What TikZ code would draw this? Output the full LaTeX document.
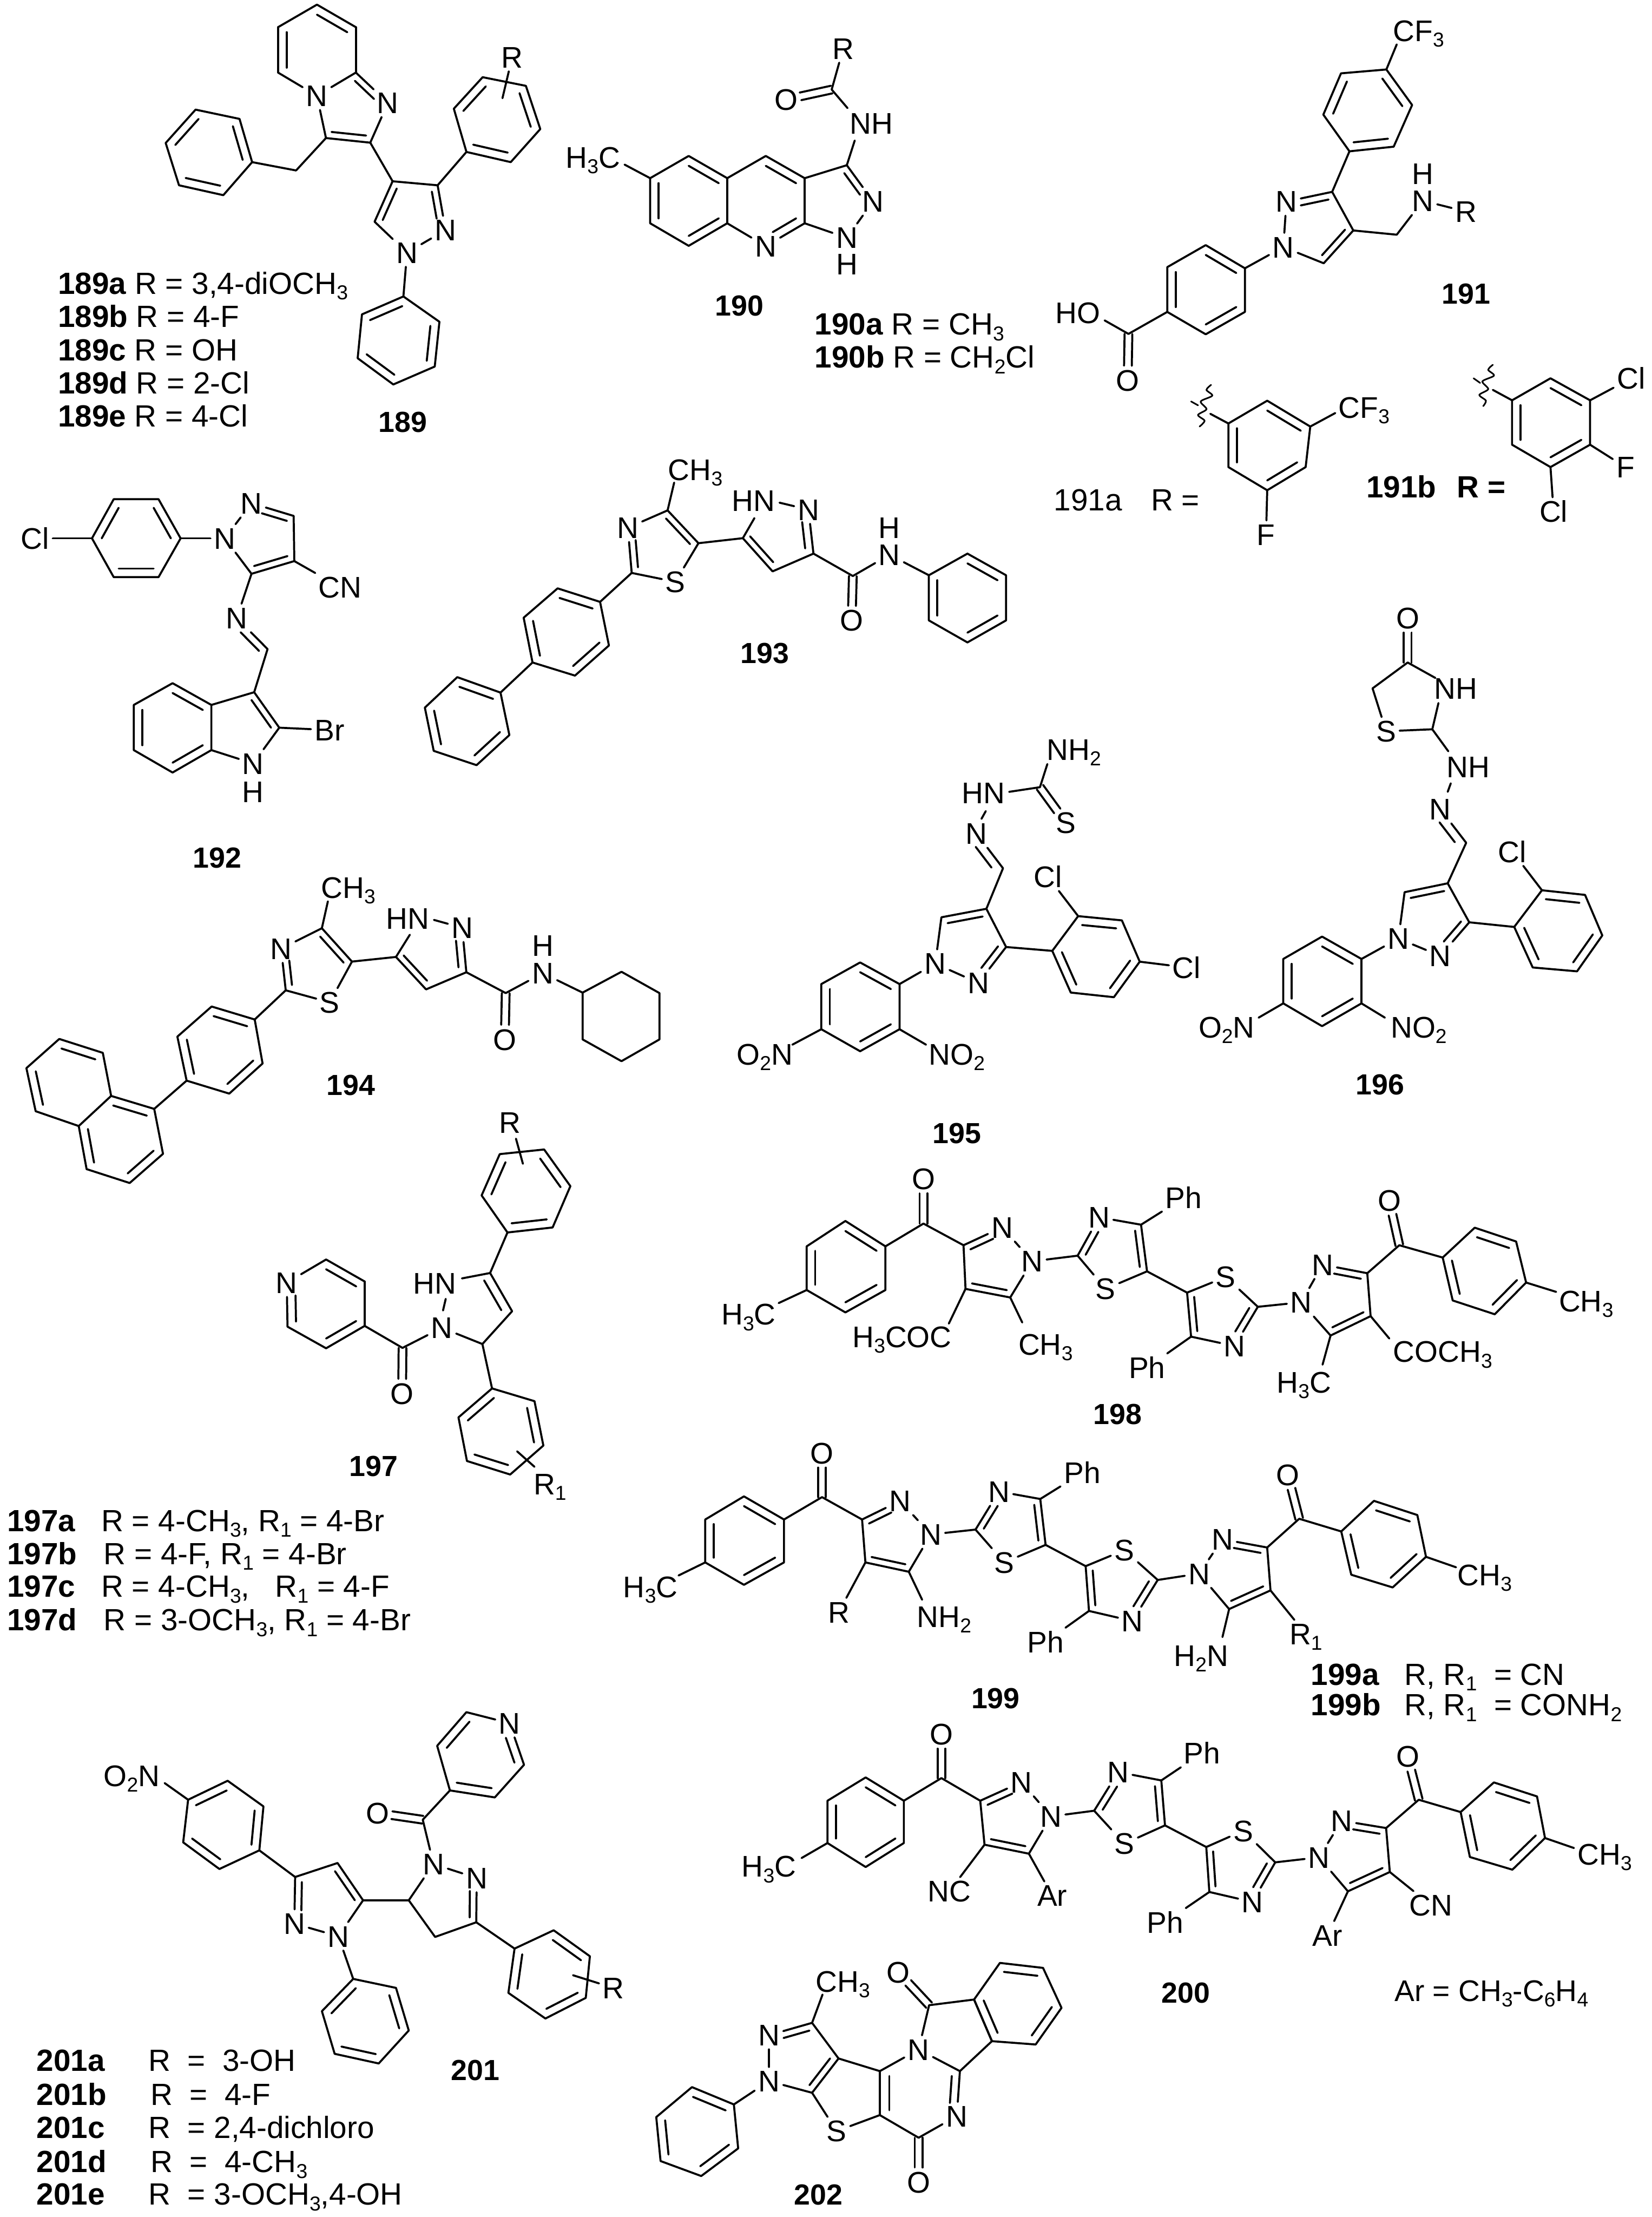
\documentclass[tikz,border=0pt]{standalone}
\usepackage{fontspec}
\setmainfont{Liberation Sans}
\usepackage{tkz-euclide}
\usetikzlibrary{calc}

\newcommand{\lo}[1]{\raisebox{-.35ex}{\fontsize{12.5}{13}\selectfont #1}}
\tikzset{
  crop/.style n args={4}{shift={(#1*0.25pt,-#2*0.25pt)},x={(#3/1568*0.25pt,0pt)},y={(0pt,-#4/1568*0.25pt)}},
  bond/.style={line width=1.25pt,line cap=round},
  tolab/.style={shorten >=5pt},
  atom/.style={inner sep=2pt,text height=13.2pt,text depth=0pt,font=\fontsize{18.5}{20}\selectfont},
  lab/.style={atom,inner sep=0pt,anchor=west,font=\fontsize{19}{20}\selectfont},
  num/.style={atom,font=\fontsize{18}{20}\selectfont\bfseries},
}
\newcommand{\atoms}[1]{\foreach \n/\x/\y/\txt in {#1}{\node[atom] (\n) at (\x,\y) {\txt};}}
\newcommand{\bonds}[1]{\foreach \p/\q in {#1}{\draw[bond] (\p) -- (\q);}}
\newcommand{\innerbonds}[4][]{\coordinate (ctr) at ($(#2)!.5!(#3)$);
  \foreach \p/\q in {#4}{\draw[bond,#1] ($(ctr)!.78!(\p)$) -- ($(ctr)!.78!(\q)$);}}
\newcommand{\ctrfive}[5]{\coordinate (q) at (barycentric cs:#1=1,#2=1,#3=1,#4=1,#5=1);}
\newcommand{\hexring}[2]{\foreach \x/\y [count=\i] in {#2}{\tkzDefPoint(\x,\y){#1\i}}
  \tkzDrawPolygon[bond](#11,#12,#13,#14,#15,#16)
  \innerbonds{#11}{#14}{#11/#12,#13/#14,#15/#16}}
\newcommand{\carbonyl}[2]{\draw[bond,shorten >=9pt] ($(#1)!2.4pt!90:(#2)$) -- ($(#2)!2.4pt!-90:(#1)$);
  \draw[bond,shorten >=9pt] ($(#1)!2.4pt!-90:(#2)$) -- ($(#2)!2.4pt!90:(#1)$);}
\newcommand{\biscore}{
  \bonds{r2/c1,c1/c2,c2/n1,n1/n2,n2/c3,c3/c4,c4/c2,n2/c5,c5/n3,n3/c6,c6/c7,c7/su1,su1/c5,c7/c8,c8/su2,su2/c9,c9/n4,n4/c10,c10/c8,c9/n5,n5/n6,n6/c11,c11/c12,c12/c13,c13/n5,c11/c14,c14/s6,c6/ph1,c10/ph2}
  \carbonyl{c1}{o1}
  \carbonyl{c14}{o2}
  \ctrfive{c2}{n1}{n2}{c3}{c4}
  \innerbonds[tolab]{q}{q}{c2/n1}
  \innerbonds{q}{q}{c4/c3}
  \ctrfive{c5}{n3}{c6}{c7}{su1}
  \innerbonds[tolab]{q}{q}{c5/n3}
  \innerbonds{q}{q}{c6/c7}
  \ctrfive{c8}{su2}{c9}{n4}{c10}
  \innerbonds[tolab]{q}{q}{c9/n4}
  \innerbonds{q}{q}{c8/c10}
  \ctrfive{n5}{n6}{c11}{c12}{c13}
  \innerbonds[tolab]{q}{q}{c11/n6}
  \innerbonds{q}{q}{c12/c13}
}

\begin{document}
\begin{tikzpicture}
  \path[use as bounding box] (0pt,0pt) rectangle (4094*0.25pt,-5494*0.25pt);

  % 189
  \begin{scope}[crop={0}{0}{1400}{1200}]
    \atoms{n1/880/310/N,n2/1077/333/N,n3/1237/745/N,n4/1130/818/N,lr/1422/185/R}
    \tkzDefPoints{880/15/a,988/88/b,988/235/c,772/235/d,772/88/e,1028/462/f,905/447/g,822/552/h,1090/587/i,1215/600/j,1040/718/k,1395/318/w}
    \hexring{s}{665/385,700/525,620/632,497/600,460/463,543/355}
    \hexring{t}{1260/352,1340/250,1460/278,1500/418,1418/525,1295/492}
    \hexring{u}{1120/960,1005/1018,993/1160,1092/1245,1207/1187,1220/1042}
    \bonds{e/a,a/b,b/c,c/n1,n1/d,d/e,c/n2,n2/f,f/g,g/n1,g/h,h/s2,f/i,i/j,j/n3,n3/n4,n4/k,k/i,j/t6,n4/u1,lr/w}
    \innerbonds{a}{n1}{a/b,d/e}
    \ctrfive{n1}{c}{n2}{f}{g}
    \innerbonds[tolab]{q}{q}{c/n2}
    \innerbonds{q}{q}{f/g}
    \ctrfive{i}{j}{n3}{n4}{k}
    \innerbonds[tolab]{q}{q}{j/n3}
    \innerbonds{q}{q}{i/k}
    \node[lab] (l1) at (160,918) {\textbf{189a} R = 3,4-diOCH\lo{3}};
    \node[lab] (l2) at (160,1025) {\textbf{189b} R = 4-F};
    \node[lab] (l3) at (160,1133) {\textbf{189c} R = OH};
    \node[lab] (l4) at (160,1240) {\textbf{189d} R = 2-Cl};
    \node[lab] (l5) at (160,1347) {\textbf{189e} R = 4-Cl};
    \node[num] (l6) at (1118,1365) {189};
  \end{scope}

  % 190
  \begin{scope}[crop={1300}{0}{1400}{1200}]
    \atoms{n1/670/797/N,n2/968/652/N,n3/895/770/N,h1/895/855/H,me/190/510/H\lo{3}C,nh/963/400/NH,o1/727/322/O,lr/885/157/R}
    \tkzDefPoints{563/577/a,670/505/b,778/577/c,778/723/d,563/723/e,895/535/f,278/533/g,917/455/h,853/290/i,897/350/j}
    \hexring{r}{456/505,563/577,563/723,456/796,349/723,349/577}
    \bonds{a/b,b/c,c/d,d/n1,n1/e,e/a,c/f,f/n2,n2/n3,n3/d,g/r6,f/h,i/j,lr/i}
    \carbonyl{i}{o1}
    \innerbonds{b}{n1}{b/c}
    \innerbonds[tolab]{b}{n1}{d/n1}
    \ctrfive{c}{f}{n2}{n3}{d}
    \innerbonds[tolab]{q}{q}{f/n2}
    \node[num] (l1) at (597,988) {190};
    \node[lab] (l2) at (805,1050) {\textbf{190a} R = CH\lo{3}};
    \node[lab] (l3) at (805,1157) {\textbf{190b} R = CH\lo{2}Cl};
  \end{scope}

  % 191
  \begin{scope}[crop={2600}{0}{1494}{1500}]
    \atoms{n1/618/522/N,n2/610/640/N,n3/973/520/N,h1/973/450/H,lr/1085/548/R,cf/962/80/CF\lo{3},ho/75/810/HO,o1/205/985/O,cf2/820/1055/CF\lo{3},f1/565/1385/F,cl1/1515/980/Cl,f2/1500/1210/F,cl2/1313/1325/Cl}
    \tkzDefPoints{737/497/a,715/682/b,792/597/c,905/608/d,207/865/e,905/115/g,145/830/h,745/1070/i,420/1072/j,1155/1010/k}
    \hexring{r}{878/180,945/272,897/380,782/392,714/297,760/190}
    \hexring{s}{408/635,510/695,510/808,408/866,308/808,308/692}
    \hexring{t}{568/1038,680/1105,668/1210,568/1270,467/1210,467/1097}
    \hexring{u}{1305/980,1408/1037,1408/1152,1305/1210,1205/1152,1205/1037}
    \bonds{g/r1,r4/a,a/n1,n1/n2,n2/b,b/c,c/a,c/d,d/n3,n3/lr,n2/s2,s5/e,e/h,i/t2,t4/f1,t6/j,u2/cl1,u3/f2,u4/cl2,u6/k}
    \carbonyl{e}{o1}
    \ctrfive{a}{n1}{n2}{b}{c}
    \innerbonds[tolab]{q}{q}{a/n1}
    \innerbonds{q}{q}{c/b}
    \draw[bond,line width=1pt] plot[smooth] coordinates {(422,997) (410,1010) (425,1025) (395,1040) (410,1060) (388,1075) (405,1090) (392,1105)};
    \draw[bond,line width=1pt] plot[smooth] coordinates {(1155,945) (1143,958) (1158,973) (1128,988) (1143,1008) (1120,1023) (1137,1038) (1130,1052)};
    \tkzDefPoints{370/1040/w1,388/1050/w2,1105/980/w3,1122/992/w4}
    \draw[bond,line width=1pt] (w1) -- (w2);
    \draw[bond,line width=1pt] (w3) -- (w4);
    \node[num] (l1) at (1085,760) {191};
    \node[lab] (l2) at (12,1295) {191a\hspace{18pt}R =};
    \node[lab] (l3) at (825,1262) {\textbf{191b\hspace{13pt}R =}};
  \end{scope}

  % 192
  \begin{scope}[crop={0}{1150}{1300}{1300}]
    \atoms{cl/105/222/Cl,n1/672/222/N,n2/752/117/N,cn/1017/368/CN,n3/708/460/N,n4/757/895/N,h1/757/980/H,br/985/795/Br}
    \tkzDefPoints{878/155/a,880/290/b,752/328/c,800/553/d,760/682/e,835/788/f,632/855/g,632/720/h,683/577/v}
    \hexring{r}{275/222,340/105,474/105,540/222,474/338,340/338}
    \hexring{s}{516/655,632/720,632/855,516/922,400/855,400/720}
    \bonds{cl/r1,r4/n1,n1/n2,n2/a,a/b,b/c,c/n1,b/cn,c/n3,n3/d,d/e,e/f,f/n4,n4/g,g/h,h/e,f/br}
    \ctrfive{n1}{n2}{a}{b}{c}
    \innerbonds[tolab]{q}{q}{a/n2}
    \innerbonds{q}{q}{b/c}
    \innerbonds[tolab]{v}{v}{d/n3}
    \ctrfive{e}{f}{n4}{g}{h}
    \innerbonds{q}{q}{e/f}
    \node[num] (l1) at (650,1175) {192};
  \end{scope}

  % 193
  \begin{scope}[crop={1100}{1150}{1500}{1500}]
    \atoms{me/652/15/CH\lo{3},n1/477/165/N,su1/600/305/S,hn/803/95/HN,n2/945/118/N,o1/1057/405/O,n3/1155/235/N,h1/1155/165/H}
    \tkzDefPoints{580/120/a,660/205/b,487/282/c,775/192/d,958/232/e,852/278/f,1060/290/g,597/48/p1,805/140/p2,870/100/p3}
    \hexring{r}{295/322,405/357,428/470,340/548,230/514,207/398}
    \hexring{s}{35/552,147/592,170/702,85/780,-26/743,-49/631}
    \hexring{t}{1357/232,1457/288,1457/405,1357/462,1257/405,1257/288}
    \bonds{p1/a,a/b,b/su1,su1/c,c/n1,n1/a,c/r2,r5/s2,b/d,d/p2,p3/n2,n2/e,e/f,f/d,e/g,g/n3,n3/t6}
    \carbonyl{g}{o1}
    \ctrfive{a}{b}{su1}{c}{n1}
    \innerbonds{q}{q}{a/b}
    \innerbonds[tolab]{q}{q}{c/n1}
    \coordinate (q) at (860,170);
    \innerbonds{q}{q}{d/f}
    \innerbonds[tolab]{q}{q}{e/n2}
    \node[num] (l1) at (832,488) {193};
  \end{scope}

  % 194
  \begin{scope}[crop={0}{2050}{1800}{1800}]
    \atoms{me/752/130/CH\lo{3},n1/607/262/N,su1/712/378/S,hn/880/197/HN,n2/998/217/N,o1/1090/458/O,n3/1172/315/N,h1/1172/255/H}
    \tkzDefPoints{695/218/a,760/290/b,617/352/c,855/280/d,1007/313/e,920/350/f,1092/358/g,708/160/p1,885/232/p2,937/200/p3}
    \hexring{r}{457/387,550/415,567/510,495/575,403/547,383/452}
    \hexring{s}{240/580,333/608,352/705,280/768,187/738,170/645}
    \tkzDefPoints{222/487/u1,128/457/u2,57/520/u3,77/613/u4}
    \tkzDefPoints{1258/357/v1,1342/312/v2,1424/358/v3,1424/458/v4,1342/505/v5,1258/458/v6}
    \tkzDrawPolygon[bond](v1,v2,v3,v4,v5,v6)
    \bonds{p1/a,a/b,b/su1,su1/c,c/n1,n1/a,c/r2,r5/s2,s1/u1,u1/u2,u2/u3,u3/u4,u4/s6,b/d,d/p2,p3/n2,n2/e,e/f,f/d,e/g,g/n3,n3/v1}
    \carbonyl{g}{o1}
    \innerbonds{u2}{s6}{u1/u2,u3/u4}
    \ctrfive{a}{b}{su1}{c}{n1}
    \innerbonds{q}{q}{a/b}
    \innerbonds[tolab]{q}{q}{c/n1}
    \coordinate (q) at (930,265);
    \innerbonds{q}{q}{d/f}
    \innerbonds[tolab]{q}{q}{e/n2}
    \node[num] (l1) at (758,555) {194};
  \end{scope}

  % 195, 196
  \begin{scope}[crop={1700}{1350}{2394}{1500}]
    \atoms{nh2/630/530/NH\lo{2},su1/617/720/S,hn/483/642/HN,n1/472/748/N,n2/405/1085/N,n3/475/1135/N,cl1/588/860/Cl,cl2/813/1095/Cl,on/128/1320/O\lo{2}N,no/440/1320/NO\lo{2}}
    \tkzDefPoints{575/628/a,515/838/b,488/943/c,415/965/d,520/1042/e,587/568/p1,525/640/p2,487/690/p3,480/710/p4,430/830/v,173/1295/p5,390/1295/p6}
    \hexring{r}{637/962,708/973,737/1080,695/1172,625/1160,595/1052}
    \hexring{s}{283/1082,347/1138,347/1255,283/1312,220/1255,220/1138}
    \bonds{a/p1,a/p2,p3/p4,n1/b,b/c,c/d,d/n2,n2/n3,n3/e,e/c,e/r6,r1/cl1,r3/cl2,n2/s2,s3/p6,s5/p5}
    \carbonyl{a}{su1}
    \innerbonds[tolab]{v}{v}{b/n1}
    \ctrfive{c}{d}{n2}{n3}{e}
    \innerbonds{q}{q}{c/d}
    \innerbonds[tolab]{q}{q}{e/n3}
    \node[num] (l1) at (440,1523) {195};
  \end{scope}
  \begin{scope}[crop={1700}{1350}{2394}{1500}]
    \atoms{o1/1172/190/O,nh/1250/372/NH,su1/1137/483/S,nh2/1270/575/NH,n1/1225/685/N,n2/1157/1020/N,n3/1225/1065/N,cl1/1342/795/Cl,on/878/1250/O\lo{2}N,no/1190/1250/NO\lo{2}}
    \tkzDefPoints{1172/305/a,1115/372/b,1212/478/c,1267/772/d,1237/877/e,1167/900/f,1272/978/g,1217/345/p1,1222/410/p2,1238/535/p3,1242/618/p4,1237/640/p5,1183/765/v,930/1225/p6,1135/1225/p7}
    \hexring{r}{1390/895,1460/907,1488/1012,1447/1105,1375/1095,1345/990}
    \hexring{s}{1033/1015,1097/1073,1097/1188,1033/1247,970/1188,970/1073}
    \bonds{a/p1,p2/c,c/su1,su1/b,b/a,c/p3,p4/p5,n1/d,d/e,e/f,f/n2,n2/n3,n3/g,g/e,g/r6,r1/cl1,n2/s2,s3/p7,s5/p6}
    \carbonyl{a}{o1}
    \innerbonds[tolab]{v}{v}{d/n1}
    \ctrfive{e}{f}{n2}{n3}{g}
    \innerbonds{q}{q}{e/f}
    \innerbonds[tolab]{q}{q}{g/n3}
    \node[num] (l1) at (1127,1397) {196};
  \end{scope}

  % 197
  \begin{scope}[crop={0}{2750}{1500}{1500}]
    \atoms{lr/1322/33/R,n1/1145/565/N,hn/1127/450/HN,o1/1042/735/O,n2/743/448/N,lr1/1425/970/R\lo{1}}
    \tkzDefPoints{1270/423/a,1327/522/b,1250/607/c,1043/617/d,945/560/e,945/445/f,845/388/g,745/562/h,845/618/i,1197/437/p1,1155/490/p2,1148/520/p3,1355/140/p4,1337/75/p5,1340/885/p6,1385/925/p7}
    \hexring{r}{1248/222,1295/115,1410/103,1478/198,1432/305,1315/318}
    \hexring{s}{1188/797,1275/722,1385/755,1408/870,1322/945,1210/910}
    \bonds{p5/p4,r6/a,a/b,b/c,c/n1,p1/a,p2/p3,n1/d,d/e,e/f,f/g,g/n2,n2/h,h/i,i/e,c/s2,p6/p7}
    \carbonyl{d}{o1}
    \innerbonds{g}{i}{g/f,i/e}
    \innerbonds[tolab]{g}{i}{h/n2}
    \coordinate (q) at (1200,510);
    \innerbonds{q}{q}{a/b}
    \node[num] (l1) at (968,922) {197};
    \node[lab] (l2) at (18,1065) {\makebox[58.3pt][l]{\textbf{197a}}R = 4-CH\lo{3}, R\lo{1} = 4-Br};
    \node[lab] (l3) at (18,1150) {\makebox[59.8pt][l]{\textbf{197b}}R = 4-F, R\lo{1} = 4-Br};
    \node[lab] (l4) at (18,1235) {\makebox[58.3pt][l]{\textbf{197c}}R = 4-CH\lo{3},\ \ \ R\lo{1} = 4-F};
    \node[lab] (l5) at (18,1322) {\makebox[59.8pt][l]{\textbf{197d}}R = 3-OCH\lo{3}, R\lo{1} = 4-Br};
  \end{scope}

  % 198
  \begin{scope}[crop={1500}{2850}{2594}{1450}]
    \atoms{me1/215/440/H\lo{3}C,o1/477/77/O,n1/595/207/N,n2/640/298/N,n3/740/180/N,su1/750/372/S,ph1/867/128/Ph,su2/930/340/S,n4/943/525/N,ph2/812/583/Ph,n5/1043/408/N,n6/1075/307/N,o2/1175/135/O,me2/1470/405/CH\lo{3},ac1/445/500/H\lo{3}COC,me3/660/520/CH\lo{3},ac2/1255/540/COCH\lo{3},me4/1047/622/H\lo{3}C}
    \tkzDefPoints{477/197/c1,537/255/c2,607/395/c3,540/372/c4,708/283/c5,803/200/c6,812/325/c7,872/382/c8,978/420/c9,878/500/c10,1142/330/c11,1147/445/c12,1087/497/c13,1190/255/c14,260/410/p1,1425/380/p2,515/465/p3,625/462/p4,1175/505/p5,1075/575/p6}
    \hexring{r}{360/190,420/258,420/375,360/435,302/375,302/258}
    \hexring{s}{1303/208,1365/245,1380/355,1333/440,1270/403,1255/288}
    \biscore
    \bonds{r5/p1,s3/p2,c4/p3,c3/p4,c12/p5,c13/p6}
    \node[num] (l1) at (768,707) {198};
  \end{scope}

  % 199
  \begin{scope}[crop={1500}{2850}{2594}{1450}]
    \atoms{me1/68/1170/H\lo{3}C,o1/325/812/O,n1/442/940/N,n2/488/1030/N,n3/590/915/N,su1/598/1105/S,ph1/715/865/Ph,su2/778/1072/S,n4/790/1262/N,ph2/660/1318/Ph,n5/890/1135/N,n6/925/1043/N,o2/1023/870/O,me2/1318/1138/CH\lo{3},lr/350/1238/R,nh/508/1250/NH\lo{2},lr1/1050/1297/R\lo{1},hn/893/1355/H\lo{2}N}
    \tkzDefPoints{325/930/c1,385/990/c2,455/1130/c3,390/1105/c4,555/1017/c5,652/935/c6,660/1058/c7,720/1115/c8,828/1152/c9,725/1235/c10,992/1065/c11,997/1180/c12,935/1230/c13,1040/988/c14,110/1140/p1,1275/1118/p2,475/1205/p3,925/1305/p4}
    \hexring{r}{208/928,268/990,268/1105,208/1165,150/1105,150/990}
    \hexring{s}{1152/940,1217/978,1230/1090,1180/1172,1118/1138,1103/1022}
    \biscore
    \bonds{r5/p1,s3/p2,c4/lr,c3/p3,c12/lr1,c13/p4}
    \node[num] (l1) at (585,1468) {199};
    \node[lab] (l2) at (1057,1405) {\makebox[58pt][l]{\textbf{199a}}R, R\lo{1}\ \ = CN};
    \node[lab] (l3) at (1057,1487) {\makebox[58pt][l]{\textbf{199b}}R, R\lo{1}\ \ = CONH\lo{2}};
  \end{scope}

  % 200
  \begin{scope}[crop={1700}{4200}{2394}{1294}]
    \atoms{me1/135/515/H\lo{3}C,o1/415/118/O,n1/545/262/N,n2/593/365/N,n3/702/232/N,su1/712/447/S,ph1/838/175/Ph,su2/905/408/S,n4/920/622/N,ph2/778/683/Ph,n5/1028/488/N,n6/1065/378/N,o2/1172/185/O,me2/1492/478/CH\lo{3},nc/428/590/NC,ar1/595/603/Ar,cn/1210/632/CN,ar2/1042/722/Ar}
    \tkzDefPoints{415/250/c1,478/318/c2,557/477/c3,485/450/c4,663/348/c5,772/257/c6,778/392/c7,845/457/c8,957/503/c9,850/592/c10,1137/400/c11,1143/532/c12,1075/590/c13,1190/315/c14,188/490/p1,1442/460/p2}
    \hexring{r}{292/248,354/318,354/445,292/517,230/445,230/318}
    \hexring{s}{1312/263,1382/305,1395/430,1342/525,1273/487,1258/352}
    \biscore
    \bonds{r5/p1,s3/p2,c4/nc,c3/ar1,c12/cn,c13/ar2}
    \node[num] (l1) at (812,893) {200};
    \node[atom] (l2) at (1308,888) {Ar = CH\lo{3}-C\lo{6}H\lo{4}};
  \end{scope}

  % 201
  \begin{scope}[crop={0}{4200}{1600}{1294}]
    \atoms{on/320/243/O\lo{2}N,n1/715/687/N,n2/822/725/N,n3/1053/508/N,n4/1158/550/N,o1/917/355/O,n5/1238/85/N,lr/1490/880/R}
    \tkzDefPoints{717/547/a,820/505/b,882/617/c,993/617/d,1157/683/e,1057/727/f,1027/375/g,1133/52/h,1062/153/i,1093/287/j,1202/308/k,1273/210/l,400/265/p1,1392/842/p2}
    \hexring{r}{553/258,457/315,445/443,533/523,630/467,640/335}
    \hexring{t}{1345/707,1433/785,1423/910,1325/972,1235/895,1250/762}
    \hexring{u}{962/880,993/1008,920/1107,813/1078,782/950,858/853}
    \bonds{p1/r2,r5/a,a/b,b/c,c/n2,n2/n1,n1/a,c/d,d/n3,n3/n4,n4/e,e/f,f/d,n3/g,g/j,j/i,i/h,h/n5,n5/l,l/k,k/j,e/t6,n2/u6,p2/lr}
    \carbonyl{g}{o1}
    \ctrfive{a}{b}{c}{n2}{n1}
    \innerbonds[tolab]{q}{q}{a/n1}
    \innerbonds{q}{q}{b/c}
    \ctrfive{d}{n3}{n4}{e}{f}
    \innerbonds[tolab]{q}{q}{e/n4}
    \innerbonds{i}{l}{i/h,k/j}
    \innerbonds[tolab]{i}{l}{l/n5}
    \node[num] (l1) at (1155,1125) {201};
    \node[lab] (l2) at (88,1098) {\makebox[69.4pt][l]{\textbf{201a}}R\ \ =\ \ 3-OH};
    \node[lab] (l3) at (88,1200) {\makebox[70.7pt][l]{\textbf{201b}}R\ \ =\ \ 4-F};
    \node[lab] (l4) at (88,1300) {\makebox[69.4pt][l]{\textbf{201c}}R\ \ = 2,4-dichloro};
    \node[lab] (l5) at (88,1402) {\makebox[70.7pt][l]{\textbf{201d}}R\ \ =\ \ 4-CH\lo{3}};
    \node[lab] (l6) at (88,1500) {\makebox[69.4pt][l]{\textbf{201e}}R\ \ = 3-OCH\lo{3},4-OH};
  \end{scope}

  % 202
  \begin{scope}[crop={1700}{4200}{2394}{1294}]
    \atoms{me/255/860/CH\lo{3},n1/135/1022/N,n2/135/1160/N,su1/245/1310/S,n3/378/1065/N,n4/440/1265/N,o1/378/1463/O,o2/345/833/O}
    \tkzDefPoints{205/985/a,248/1092/b,205/1195/c,315/1130/d,315/1262/e,445/1130/f,378/1330/g,395/932/h,468/915/i,497/1040/j,222/900/p1,385/1196/v}
    \hexring{r}{510/805,580/820,610/940,568/1050,497/1040,468/915}
    \hexring{s}{10/1178,78/1230,85/1362,25/1445,-41/1400,-48/1268}
    \bonds{a/p1,a/n1,n1/n2,n2/c,c/b,b/a,b/d,d/e,e/su1,su1/c,d/n3,n3/f,f/n4,n4/g,g/e,n3/h,h/i,i/j,j/f,n2/s2}
    \carbonyl{g}{o1}
    \carbonyl{h}{o2}
    \ctrfive{a}{n1}{n2}{c}{b}
    \innerbonds[tolab]{q}{q}{a/n1}
    \innerbonds{q}{q}{b/c}
    \innerbonds{v}{v}{d/e}
    \innerbonds[tolab]{v}{v}{f/n4}
    \node[num] (l1) at (215,1500) {202};
  \end{scope}
\end{tikzpicture}
\end{document}
